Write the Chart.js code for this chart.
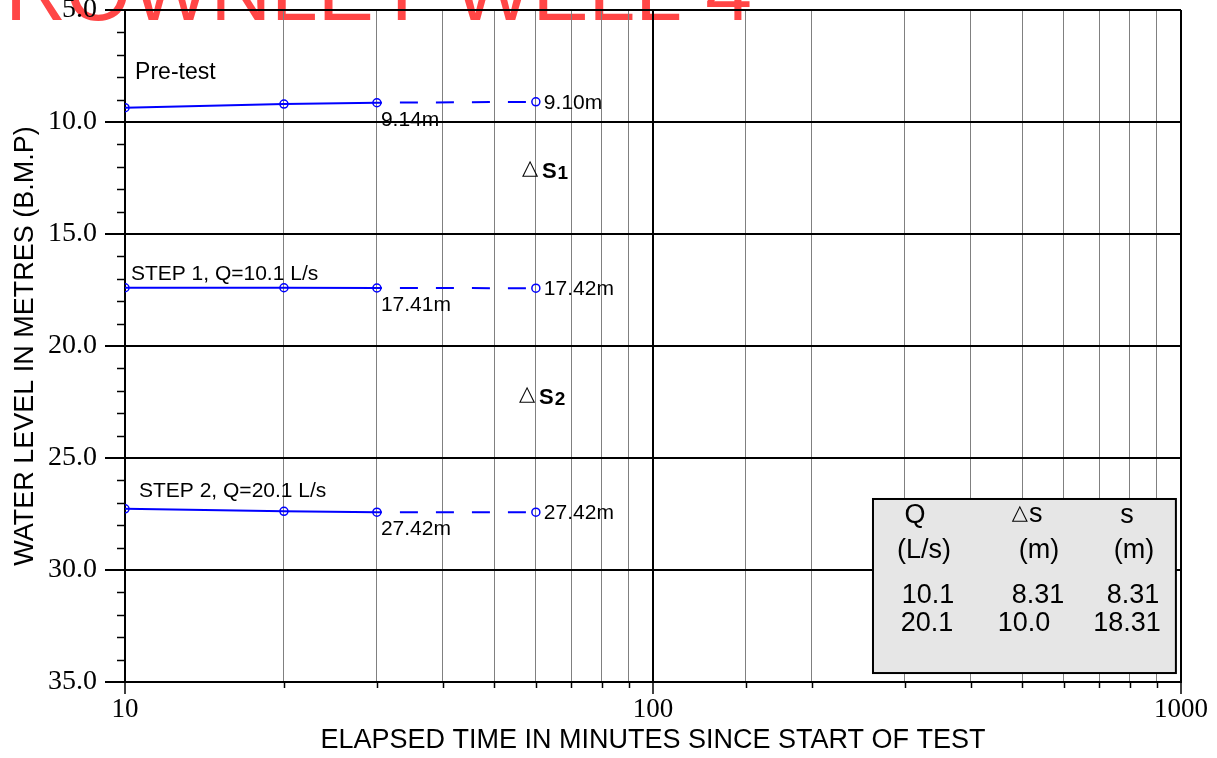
<!DOCTYPE html>
<html>
<head>
<meta charset="utf-8">
<title>Step test - water level</title>
<script src="https://cdn.jsdelivr.net/npm/chart.js@4.4.0/dist/chart.umd.min.js"></script>
<style>
html, body { margin: 0; padding: 0; background: #fff; }
#wrap { width: 1217px; height: 758px; }
</style>
</head>
<body>
<div id="wrap"><canvas id="myChart" width="1217" height="758"></canvas></div>
<script>
// elapsed minutes of each reading
const minutes = [10, 20, 30, 60];
// water level below measuring point (m)
const preTestLevel = [9.36, 9.20, 9.14, 9.10];
const step1Level = [17.40, 17.40, 17.41, 17.42];
const step2Level = [27.27, 27.38, 27.42, 27.42];

const stepNames = ['Pre-test', 'STEP 1, Q=10.1 L/s', 'STEP 2, Q=20.1 L/s'];
const drawdownNames = ['1', '2'];

// summary table
const tableHeads = ['Q', '△s', 's'];
const tableUnits = ['(L/s)', '(m)', '(m)'];
const rateQ = ['10.1', '20.1'];
const deltaS = ['8.31', '10.0'];
const totalS = ['8.31', '18.31'];

const titleText = 'ROWNLEY WELL 4';

// where the notes sit, in axis units (minutes, metres)
const stepNameAt = [[10.45, 7.8], [10.26, 16.8], [10.63, 26.5]];
const drawdownAt = [[56.7, 12.5], [56.0, 22.6]];
const tableBox = [261, 978, 26.83, 34.6];

const SANS = '"Liberation Sans", Arial, Helvetica, sans-serif';
const SERIF = '"Liberation Serif", "Times New Roman", serif';
const BLUE = '#0000ff';

const isDecade = v => Math.abs(Math.log10(v) - Math.round(Math.log10(v))) < 1e-9;
const isMajorLevel = v => Math.abs(v % 5) < 1e-9;

function series(levels, label) {
    return {
        label: label,
        data: minutes.map((t, i) => ({x: t, y: levels[i]})),
        borderColor: BLUE,
        borderWidth: 2,
        pointRadius: 4,
        pointBorderWidth: 1.5,
        pointBorderColor: BLUE,
        pointBackgroundColor: 'rgba(0,0,0,0)',
        tension: 0,
        segment: {
            // last reading is joined with a dashed line
            borderDash: c => c.p0DataIndex === 2 ? [18, 18] : undefined,
            borderDashOffset: c => c.p0DataIndex === 2 ? 13 : 0
        }
    };
}

const levelSeries = [preTestLevel, step1Level, step2Level];

const notes = {
    id: 'notes',
    beforeDraw(chart) {
        const ctx = chart.ctx;
        ctx.save();
        ctx.font = '84px ' + SANS;
        ctx.fillStyle = '#ff4646';
        ctx.textAlign = 'right';
        ctx.textBaseline = 'alphabetic';
        ctx.fillText(titleText, 752, 20);
        ctx.restore();
    },
    afterDraw(chart) {
        const ctx = chart.ctx;
        const xs = chart.scales.x, ys = chart.scales.y;
        ctx.save();

        // short minor ticks
        ctx.strokeStyle = '#000';
        ctx.lineWidth = 1.5;
        ys.ticks.forEach(t => {
            if (isMajorLevel(t.value)) return;
            const py = Math.round(ys.getPixelForValue(t.value)) + 0.5;
            ctx.beginPath(); ctx.moveTo(ys.right - 8, py); ctx.lineTo(ys.right, py); ctx.stroke();
        });
        xs.ticks.forEach(t => {
            if (isDecade(t.value)) return;
            const px = Math.round(xs.getPixelForValue(t.value)) + 0.5;
            ctx.beginPath(); ctx.moveTo(px, xs.top); ctx.lineTo(px, xs.top + 6); ctx.stroke();
        });

        // level readings beside the points
        ctx.fillStyle = '#000';
        ctx.font = '21px ' + SANS;
        ctx.textAlign = 'left';
        ctx.textBaseline = 'middle';
        levelSeries.forEach((levels, d) => {
            const pts = chart.getDatasetMeta(d).data;
            ctx.fillText(levels[2].toFixed(2) + 'm', pts[2].x + 4, pts[2].y + 17);
            ctx.fillText(levels[3].toFixed(2) + 'm', pts[3].x + 8, pts[3].y + 1);
        });

        // step names
        stepNames.forEach((name, i) => {
            ctx.font = (i === 0 ? '23px ' : '21px ') + SANS;
            ctx.fillText(name, xs.getPixelForValue(stepNameAt[i][0]), ys.getPixelForValue(stepNameAt[i][1]));
        });

        // drawdown marks
        ctx.textBaseline = 'alphabetic';
        drawdownNames.forEach((n, i) => {
            let px = xs.getPixelForValue(drawdownAt[i][0]);
            const py = ys.getPixelForValue(drawdownAt[i][1]);
            ctx.font = '21px "DejaVu Sans", sans-serif';
            ctx.fillText('△', px - 1, py - 4);
            px += 19;
            ctx.font = 'bold 22px ' + SANS;
            ctx.fillText('S', px, py);
            px += ctx.measureText('S').width + 1;
            ctx.font = 'bold 19px ' + SANS;
            ctx.fillText(n, px, py + 1);
        });

        // summary table
        const bx = xs.getPixelForValue(tableBox[0]);
        const bx2 = xs.getPixelForValue(tableBox[1]);
        const by = ys.getPixelForValue(tableBox[2]);
        const by2 = ys.getPixelForValue(tableBox[3]);
        ctx.fillStyle = '#e6e6e6';
        ctx.fillRect(bx, by, bx2 - bx, by2 - by);
        ctx.strokeStyle = '#000';
        ctx.lineWidth = 2;
        ctx.strokeRect(bx, by, bx2 - bx, by2 - by);

        ctx.fillStyle = '#000';
        ctx.textAlign = 'center';
        ctx.textBaseline = 'middle';
        const TFONT = '27px ' + SANS;
        const headX = [42, 158, 254];
        const unitX = [51, 166, 261];
        tableHeads.forEach((h, i) => {
            if (h.startsWith('△')) {
                ctx.font = '21px "DejaVu Sans", sans-serif';
                ctx.textAlign = 'right';
                ctx.fillText('△', bx + headX[i] - 3, by + 15);
                ctx.font = TFONT;
                ctx.textAlign = 'left';
                ctx.fillText(h.slice(1), bx + headX[i] - 2, by + 16);
                ctx.textAlign = 'center';
            } else {
                ctx.font = TFONT;
                ctx.fillText(h, bx + headX[i], by + 17);
            }
            ctx.font = TFONT;
            ctx.fillText(tableUnits[i], bx + unitX[i], by + 52);
        });
        const colX = [[55, 54], [165, 151], [260, 254]];
        [rateQ, deltaS, totalS].forEach((col, c) => {
            col.forEach((v, r) => {
                ctx.fillText(v, bx + colX[c][r], by + 97 + r * 28);
            });
        });

        ctx.restore();
    }
};

new Chart(document.getElementById('myChart').getContext('2d'), {
    type: 'line',
    data: {
        datasets: [
            series(preTestLevel, 'Pre-test'),
            series(step1Level, 'Step 1'),
            series(step2Level, 'Step 2')
        ]
    },
    options: {
        responsive: false,
        animation: false,
        layout: {padding: {left: 0, right: 36, top: 10, bottom: 0}},
        plugins: {
            legend: {display: false},
            tooltip: {enabled: false}
        },
        scales: {
            x: {
                type: 'logarithmic',
                min: 10,
                max: 1000,
                afterFit: s => { s.height = 76; s.paddingLeft = 0; s.paddingRight = 0; },
                border: {display: true, color: '#000', width: 2},
                grid: {
                    color: c => isDecade(c.tick.value) ? '#000' : '#808080',
                    lineWidth: c => isDecade(c.tick.value) ? 2 : 1,
                    tickColor: c => isDecade(c.tick.value) ? '#000' : 'rgba(0,0,0,0)',
                    tickLength: 12,
                    tickWidth: 1.5
                },
                ticks: {
                    autoSkip: false,
                    maxRotation: 0,
                    padding: 0,
                    color: '#000',
                    font: {family: SERIF, size: 27},
                    callback: v => isDecade(v) ? String(v) : ''
                },
                title: {
                    display: true,
                    text: 'ELAPSED TIME IN MINUTES SINCE START OF TEST',
                    color: '#000',
                    font: {family: SANS, size: 27},
                    padding: {top: 0, bottom: 1}
                }
            },
            y: {
                type: 'linear',
                min: 5,
                max: 35,
                reverse: true,
                afterFit: s => { s.width = 125; s.paddingTop = 0; s.paddingBottom = 0; },
                border: {display: true, color: '#000', width: 2},
                grid: {
                    color: c => isMajorLevel(c.tick.value) ? '#000' : 'rgba(0,0,0,0)',
                    lineWidth: 2,
                    tickColor: c => isMajorLevel(c.tick.value) ? '#000' : 'rgba(0,0,0,0)',
                    tickLength: 20,
                    tickWidth: 2
                },
                ticks: {
                    stepSize: 1,
                    autoSkip: false,
                    padding: 8,
                    color: '#000',
                    font: {family: SERIF, size: 28},
                    callback: v => isMajorLevel(v) ? v.toFixed(1) : ''
                },
                title: {
                    display: true,
                    text: 'WATER LEVEL IN METRES (B.M.P)',
                    color: '#000',
                    font: {family: SANS, size: 27},
                    padding: {top: 9, bottom: 0}
                }
            }
        }
    },
    plugins: [notes]
});
</script>
</body>
</html>
